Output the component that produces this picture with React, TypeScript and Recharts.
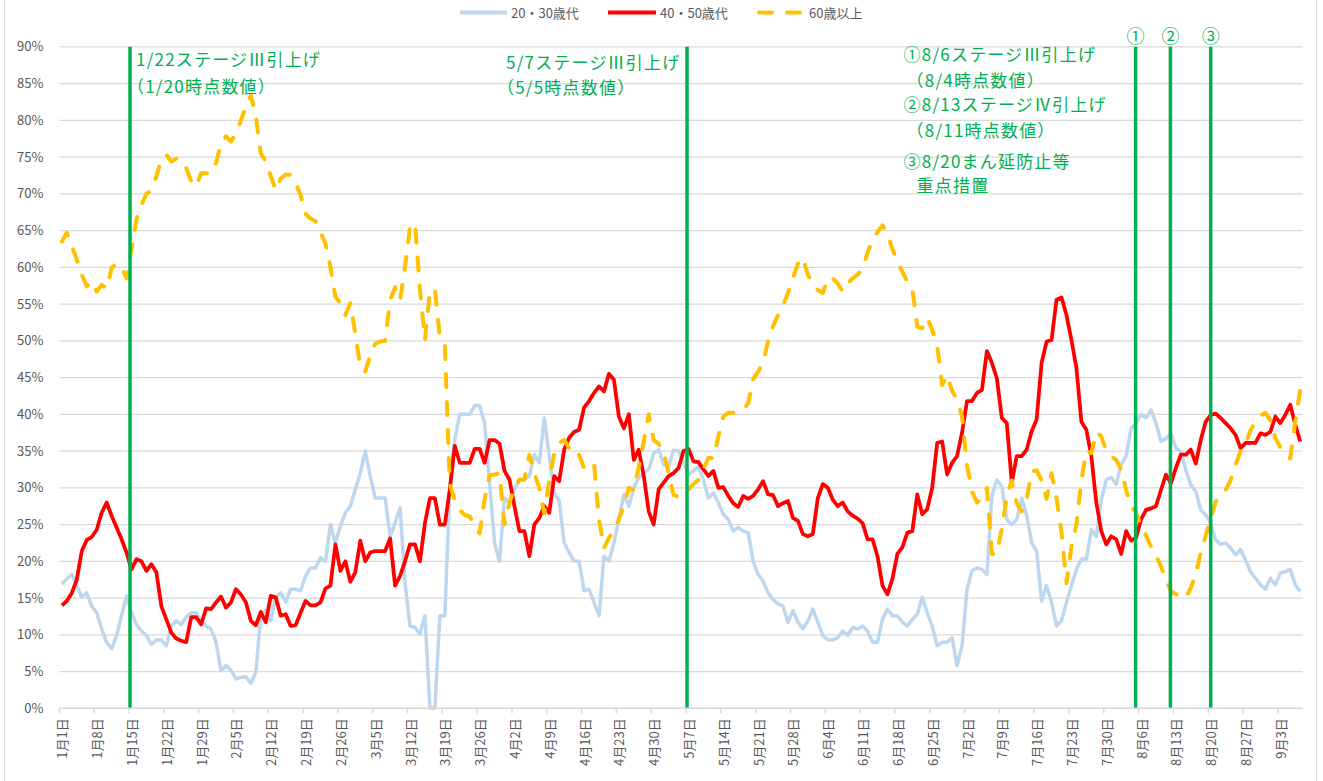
import React from 'react';
import { LineChart, Line, XAxis, YAxis, CartesianGrid, ReferenceLine, Legend } from 'recharts';

// x tick labels (one every 7 days, Jan 1 .. Sep 3)
const TICK_LABELS = ['1月1日','1月8日','1月15日','1月22日','1月29日','2月5日','2月12日','2月19日','2月26日','3月5日','3月12日','3月19日','3月26日','4月2日','4月9日','4月16日','4月23日','4月30日','5月7日','5月14日','5月21日','5月28日','6月4日','6月11日','6月18日','6月25日','7月2日','7月9日','7月16日','7月23日','7月30日','8月6日','8月13日','8月20日','8月27日','9月3日'];
const TICK_POS = TICK_LABELS.map((_, k) => k * 7);
const Y_TICKS = [0,5,10,15,20,25,30,35,40,45,50,55,60,65,70,75,80,85,90];

// series values in % (daily, Jan 1 .. Sep 7)
const AGE_20_30 = [
16.9,17.6,18.2,16.7,15.1,15.7,13.9,13.0,10.8,9.0,
8.1,9.9,12.6,15.3,13.0,11.4,10.5,9.9,8.7,9.3,
9.3,8.5,11.2,11.9,11.4,12.4,13.0,13.0,11.9,11.2,
10.8,9.0,5.1,5.8,5.2,4.0,4.2,4.3,3.4,4.9,
12.6,13.3,11.9,15.1,15.7,14.5,16.2,16.2,16.0,18.0,
19.1,19.1,20.5,20.0,25.0,22.5,24.8,26.6,27.5,29.8,
32.0,35.0,31.6,28.6,28.6,28.6,23.4,25.2,27.3,17.0,
11.2,11.0,10.1,12.6,0,0,12.6,12.6,29.8,36.6,
40.0,40.0,40.0,41.2,41.2,38.8,30.7,22.5,20.0,28.6,
28.0,29.8,31.1,31.1,31.6,34.5,33.4,39.5,34.3,29.3,
28.2,22.5,21.2,20.0,20.0,16.0,16.2,14.4,12.6,20.7,
20.0,22.5,25.7,29.1,27.5,30.0,31.4,32.0,32.5,34.7,
35.2,33.2,32.9,35.1,35.0,33.4,31.8,32.3,32.9,31.1,
28.6,29.3,28.0,26.4,25.7,24.1,24.6,24.1,23.9,20.0,
18.2,17.3,15.7,14.8,14.2,13.9,11.7,13.3,11.7,10.8,
11.9,13.5,11.7,9.9,9.3,9.3,9.6,10.5,9.9,11.0,
10.8,11.2,10.5,9.0,9.0,12.1,13.5,12.6,12.6,11.7,
11.2,12.1,12.8,15.1,13.0,11.2,8.5,9.0,9.0,9.6,
5.8,8.5,16.2,18.7,19.1,18.9,18.2,28.9,31.1,30.2,
25.7,25.0,25.7,28.6,26.2,22.5,21.4,14.6,16.7,14.4,
11.2,11.9,14.4,16.7,18.9,20.3,20.3,24.3,23.4,28.4,
31.1,31.4,30.5,33.2,34.3,38.1,38.8,40.0,39.5,40.6,
38.8,36.3,36.7,37.4,35.4,34.9,32.4,30.4,29.5,27.0,
26.3,25.2,22.9,22.3,22.5,21.8,20.9,21.6,20.2,18.6,
17.7,16.8,16.2,17.7,16.8,18.4,18.6,18.9,16.8,15.9,
];
const AGE_40_50 = [
14.0,14.6,15.7,17.5,21.4,22.9,23.3,24.3,26.6,28.0,
26.2,24.6,23.0,21.2,18.9,20.3,20.0,18.7,19.6,18.5,
13.9,12.1,10.3,9.5,9.2,9.0,12.4,12.4,11.4,13.6,
13.5,14.4,15.2,13.7,14.4,16.2,15.5,14.4,11.9,11.3,
13.1,11.7,15.3,15.1,12.6,12.8,11.2,11.3,13.0,14.6,
14.0,14.0,14.4,16.3,16.7,22.3,18.7,20.0,17.2,18.5,
22.8,20.0,21.2,21.4,21.4,21.4,23.1,16.7,18.0,20.0,
22.3,22.3,20.0,25.2,28.6,28.6,25.0,25.0,29.8,35.7,
33.4,33.4,33.4,35.3,35.3,33.4,36.5,36.5,36.0,32.3,
31.1,27.5,24.1,24.1,20.7,25.0,25.9,27.5,26.6,31.6,
30.9,35.2,36.8,37.6,37.9,40.9,41.8,42.9,43.8,43.1,
45.5,44.7,39.7,38.1,40.0,33.8,35.2,31.6,26.8,25.0,
29.8,30.7,31.6,32.0,32.7,35.0,35.3,33.6,33.5,32.5,
31.6,32.3,30.0,30.1,28.9,27.9,27.4,28.9,28.5,28.9,
29.8,30.9,29.1,29.0,27.5,27.9,28.2,25.9,25.5,23.7,
23.4,23.7,28.6,30.5,30.0,28.4,27.5,28.0,26.8,26.2,
25.8,25.2,23.0,23.0,20.7,16.7,15.5,17.6,21.0,21.9,
23.9,24.1,29.1,26.4,27.1,30.0,36.1,36.3,31.8,33.4,
34.3,37.5,41.8,41.8,42.9,43.3,48.6,47.0,44.9,39.5,
38.8,30.7,34.3,34.3,35.2,37.7,39.3,47.0,49.9,50.1,
55.6,55.9,53.5,50.1,46.3,39.0,37.9,34.3,28.0,24.1,
22.3,23.4,23.0,21.0,24.1,22.8,23.2,25.7,27.0,27.2,
27.5,29.7,31.8,30.6,32.7,34.5,34.5,35.2,33.3,36.5,
39.0,39.9,40.1,39.5,38.8,38.1,37.2,35.4,36.1,36.1,
36.1,37.4,37.2,37.6,39.7,38.8,39.9,41.3,38.6,36.3,
];
const AGE_60_PLUS = [
63.5,64.7,62.9,61.0,59.0,57.4,58.1,56.7,57.6,57.1,
59.9,60.5,60.1,58.5,62.5,66.5,68.5,70.0,70.5,72.4,
74.6,75.3,74.4,74.8,74.6,73.5,71.7,71.0,72.8,72.8,
72.8,74.2,76.9,77.8,77.1,78.2,80.0,81.9,83.4,80.5,
75.5,74.4,72.4,70.5,72.1,72.6,72.6,71.5,69.8,67.3,
66.6,66.3,64.8,63.2,60.0,56.0,55.1,53.5,55.1,51.0,
46.5,45.8,48.0,49.6,49.9,50.0,55.5,57.3,55.5,60.1,
65.5,66.0,57.0,50.1,56.8,57.0,50.5,49.5,30.5,28.3,
27.0,26.3,26.1,24.8,23.8,28.5,31.7,31.8,32.0,25.0,
28.0,30.0,31.1,31.1,34.5,32.0,30.0,26.5,31.0,34.7,
36.1,36.5,35.4,35.6,34.5,32.7,32.7,33.3,25.7,21.8,
23.2,24.1,25.7,27.5,30.0,29.7,32.9,36.3,40.0,36.5,
36.0,34.9,32.0,29.0,28.8,29.0,29.8,30.5,31.1,32.5,
34.1,34.0,37.0,39.7,40.2,40.2,40.4,40.6,41.5,44.8,
45.8,47.0,50.0,52.0,53.5,54.8,56.5,58.5,60.5,61.3,
59.0,57.8,56.9,56.5,58.5,58.5,57.8,56.7,57.8,58.5,
59.0,59.8,62.0,63.7,64.8,65.7,64.6,62.5,60.8,59.4,
58.0,57.1,51.9,51.7,53.1,51.5,49.4,44.0,45.3,43.2,
42.0,39.7,33.0,29.5,28.0,28.5,30.0,21.0,21.0,24.5,
28.8,31.0,27.9,26.8,28.5,32.2,32.4,31.0,28.5,32.0,
28.6,24.0,17.0,22.0,25.0,31.0,35.0,34.7,37.6,37.0,
35.0,34.3,33.8,32.5,29.7,27.5,26.6,24.8,23.5,22.0,
20.8,19.3,17.5,16.0,15.5,15.2,15.0,16.4,18.2,21.2,
23.5,25.7,28.1,29.0,29.7,31.0,33.1,35.0,36.0,37.8,
39.0,39.8,40.2,39.2,36.8,35.5,34.6,34.0,39.0,43.3,
];

// event lines (positions in day index units)
const EVENT_STAGE3_JAN = 13.7;
const EVENT_STAGE3_MAY = 125.7;
const EVENT_1 = 215.9;
const EVENT_2 = 222.9;
const EVENT_3 = 231.0;

const SERIES_NAMES = ['20・30歳代', '40・50歳代', '60歳以上'];

const data = AGE_20_30.map((v, i) => ({ i, a: v, b: AGE_40_50[i], c: AGE_60_PLUS[i] }));

const BLUE = '#BDD7EE';
const RED = '#FF0000';
const ORANGE = '#FFC000';
const GREEN = '#00B050';
const GRAY_TXT = '#595959';
const GRID = '#D9D9D9';
const FONT = '"Noto Sans CJK JP", "Noto Sans", sans-serif';

const W = 1323;
const H = 781;
const PLOT_LEFT = 59.4;
const PLOT_RIGHT = 1302.7;
const PLOT_TOP = 46.8;
const PLOT_BOTTOM = 708.3;
const LEGEND_H = 25;
const HALF = (PLOT_RIGHT - PLOT_LEFT) / 250 / 2;

const XTick = (props: any) => {
  const { x, y, payload } = props;
  const idx = TICK_POS.indexOf(payload.value);
  return (
    <g>
      <line x1={x - HALF} x2={x - HALF} y1={y} y2={y + 5} stroke={GRID} strokeWidth={1.5} />
      <text
        transform={`translate(${x},${y + 10}) rotate(-90)`}
        textAnchor="end"
        dominantBaseline="central"
        fontSize={13}
        fill={GRAY_TXT}
        fontFamily={FONT}
      >
        {TICK_LABELS[idx]}
      </text>
    </g>
  );
};

const renderLegend = () => (
  <svg width={W} height={LEGEND_H} style={{ display: 'block' }}>
    <line x1={460} x2={507} y1={12.5} y2={12.5} stroke={BLUE} strokeWidth={4} />
    <text x={511} y={12.5} dominantBaseline="central" fontSize={13} fill={GRAY_TXT} fontFamily={FONT}>{SERIES_NAMES[0]}</text>
    <line x1={608} x2={656} y1={12.5} y2={12.5} stroke={RED} strokeWidth={4} />
    <text x={660} y={12.5} dominantBaseline="central" fontSize={13} fill={GRAY_TXT} fontFamily={FONT}>{SERIES_NAMES[1]}</text>
    <line x1={759} x2={800} y1={12.5} y2={12.5} stroke={ORANGE} strokeWidth={4} strokeDasharray="13 15" strokeLinecap="round" />
    <text x={809} y={12.5} dominantBaseline="central" fontSize={13} fill={GRAY_TXT} fontFamily={FONT}>{SERIES_NAMES[2]}</text>
  </svg>
);

const annStyle = { fontSize: 17, fill: GREEN, fontFamily: FONT, letterSpacing: 1.2 } as any;

const labelJan = (props: any) => {
  const vb = props.viewBox || {};
  const x = vb.x;
  return (
    <g>
      <text x={x + 6} y={58} dominantBaseline="central" {...annStyle}>1/22ステージⅢ引上げ</text>
      <text x={x - 3} y={85} dominantBaseline="central" {...annStyle}>（1/20時点数値）</text>
    </g>
  );
};

const labelMay = (props: any) => {
  const vb = props.viewBox || {};
  const x = vb.x;
  return (
    <g>
      <text x={x - 181} y={61} dominantBaseline="central" {...annStyle}>5/7ステージⅢ引上げ</text>
      <text x={x - 190} y={86} dominantBaseline="central" {...annStyle}>（5/5時点数値）</text>
    </g>
  );
};

const circled = (ch: string, withBlock: boolean) => (props: any) => {
  const vb = props.viewBox || {};
  const x = vb.x;
  const bx = x - 232;
  return (
    <g>
      <text x={x} y={35} textAnchor="middle" dominantBaseline="central" fontSize={18} fill={GREEN} fontFamily={FONT}>{ch}</text>
      {withBlock && (
        <g>
          <text x={bx} y={53} dominantBaseline="central" {...annStyle}>①8/6ステージⅢ引上げ</text>
          <text x={bx + 3} y={79} dominantBaseline="central" {...annStyle}>（8/4時点数値）</text>
          <text x={bx} y={103} dominantBaseline="central" {...annStyle}>②8/13ステージⅣ引上げ</text>
          <text x={bx + 3} y={129} dominantBaseline="central" {...annStyle}>（8/11時点数値）</text>
          <text x={bx} y={160} dominantBaseline="central" {...annStyle}>③8/20まん延防止等</text>
          <text x={bx + 13} y={184} dominantBaseline="central" {...annStyle}>重点措置</text>
        </g>
      )}
    </g>
  );
};

export default function App() {
  return (
    <div style={{ position: 'absolute', left: 0, top: 0, width: W, height: H, background: '#fff', overflow: 'hidden' }}>
      <div style={{ position: 'absolute', left: 4, top: -2, width: 1313, height: H + 4, border: '1px solid #D9D9D9', boxSizing: 'border-box' }} />
      <LineChart
        width={W}
        height={H}
        data={data}
        margin={{ top: PLOT_TOP - LEGEND_H, right: W - PLOT_RIGHT, left: 0, bottom: 0 }}
        style={{ fontFamily: FONT }}
      >
        <Legend
          verticalAlign="top"
          content={renderLegend}
          wrapperStyle={{ position: 'absolute', top: 0, left: 0, width: W, height: LEGEND_H }}
        />
        <CartesianGrid vertical={false} stroke={GRID} strokeWidth={1.3} />
        <XAxis
          type="number"
          dataKey="i"
          domain={[-0.5, 249.5]}
          ticks={TICK_POS}
          interval={0}
          tick={<XTick />}
          tickLine={false}
          tickSize={0}
          tickMargin={0}
          axisLine={{ stroke: GRID, strokeWidth: 1.5 }}
          height={H - PLOT_BOTTOM}
        />
        <YAxis
          type="number"
          domain={[0, 90]}
          ticks={Y_TICKS}
          interval={0}
          tickFormatter={(v: number) => `${v}%`}
          axisLine={false}
          tickLine={false}
          tickSize={0}
          tickMargin={16}
          width={PLOT_LEFT}
          tick={{ fontSize: 13, fill: GRAY_TXT, fontFamily: FONT }}
        />
        <Line type="linear" dataKey="a" name={SERIES_NAMES[0]} stroke={BLUE} strokeWidth={3.5} dot={false} activeDot={false} isAnimationActive={false} strokeLinejoin="round" />
        <Line type="linear" dataKey="b" name={SERIES_NAMES[1]} stroke={RED} strokeWidth={3.75} dot={false} activeDot={false} isAnimationActive={false} strokeLinejoin="round" />
        <Line type="linear" dataKey="c" name={SERIES_NAMES[2]} stroke={ORANGE} strokeWidth={4} strokeDasharray="13 15" strokeLinecap="round" dot={false} activeDot={false} isAnimationActive={false} strokeLinejoin="round" />
        <ReferenceLine x={EVENT_STAGE3_JAN} stroke={GREEN} strokeWidth={3.5} label={labelJan} />
        <ReferenceLine x={EVENT_STAGE3_MAY} stroke={GREEN} strokeWidth={3.5} label={labelMay} />
        <ReferenceLine x={EVENT_1} stroke={GREEN} strokeWidth={3.5} label={circled('①', true)} />
        <ReferenceLine x={EVENT_2} stroke={GREEN} strokeWidth={3.5} label={circled('②', false)} />
        <ReferenceLine x={EVENT_3} stroke={GREEN} strokeWidth={3.5} label={circled('③', false)} />
      </LineChart>
    </div>
  );
}
